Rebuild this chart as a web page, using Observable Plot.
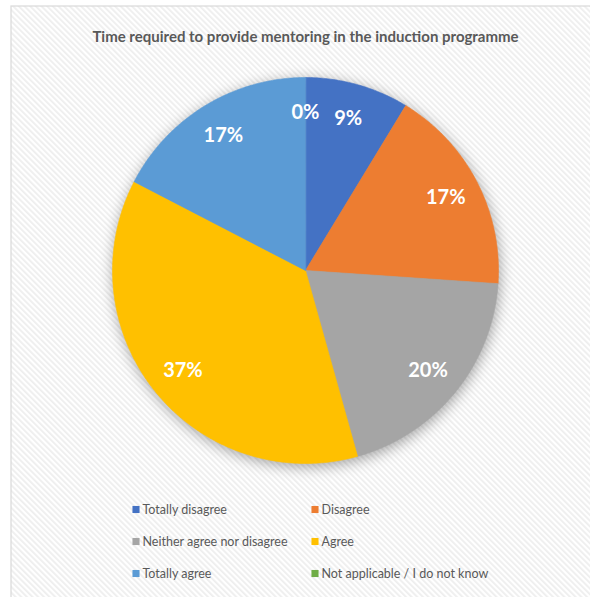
<!DOCTYPE html>
<html>
<head>
<meta charset="utf-8">
<script src="https://cdn.jsdelivr.net/npm/d3@7"></script>
<script src="https://cdn.jsdelivr.net/npm/@observablehq/plot@0.6"></script>
<style>
  html, body { margin: 0; padding: 0; background: #fff; }
</style>
</head>
<body>
<div id="chart"></div>
<script>
// ---- data ----
const title = "Time required to provide mentoring in the induction programme";
const categories = ["Totally disagree", "Disagree", "Neither agree nor disagree", "Agree", "Totally agree", "Not applicable / I do not know"];
const counts = [4, 8, 9, 17, 8, 0];
const colors = ["#4472C4", "#ED7D31", "#A5A5A5", "#FFC000", "#5B9BD5", "#70AD47"];

// ---- layout ----
const W = 590, H = 597;
const cx = 305, cy = 270, R = 193, labelR = 158;
const legendX = [132, 311], legendY0 = 509, legendDY = 32;

const total = d3.sum(counts);
const pct = d3.format(".0%");
const arcs = d3.pie().sort(null).value(d => d.value)(categories.map((c, i) => ({cat: c, value: counts[i]})));

// slice polygons derived from the data angles
const polys = [];
arcs.forEach(a => {
  if (a.endAngle - a.startAngle <= 0) return;
  polys.push({cat: a.data.cat, x: cx, y: cy});
  const n = Math.max(2, Math.ceil((a.endAngle - a.startAngle) / (Math.PI / 360)));
  for (let k = 0; k <= n; k++) {
    const t = a.startAngle + (a.endAngle - a.startAngle) * k / n;
    polys.push({cat: a.data.cat, x: cx + R * Math.sin(t), y: cy - R * Math.cos(t)});
  }
});

const labels = arcs.map(a => {
  const m = (a.startAngle + a.endAngle) / 2;
  return {text: pct(a.data.value / total), x: cx + labelR * Math.sin(m), y: cy - labelR * Math.cos(m)};
});

const legend = categories.map((c, i) => ({cat: c, x: legendX[i % 2], y: legendY0 + Math.floor(i / 2) * legendDY}));

const chart = Plot.plot({
  width: W, height: H,
  marginLeft: 10.5, marginTop: 5.5, marginRight: -3, marginBottom: -3,
  x: {type: "identity", axis: null},
  y: {type: "identity", axis: null},
  color: {domain: categories, range: colors},
  style: {fontFamily: "Lato, 'Open Sans', sans-serif", background: "#fff", overflow: "hidden"},
  marks: [
    Plot.frame({fill: "url(#hatch)", stroke: "#d9d9d9", strokeWidth: 1.2}),
    Plot.text([title], {x: cx, y: 37, text: d => d, fontSize: 15, fontWeight: "bold", fill: "#595959"}),
    Plot.line(polys, {x: "x", y: "y", z: "cat", fill: "cat", stroke: "cat", strokeWidth: 0.6, curve: "linear-closed"}),
    Plot.text(labels, {x: "x", y: "y", text: "text", fill: "white", fontSize: 20, fontWeight: "bold"}),
    Plot.dot(legend, {x: d => d.x + 3.5, y: "y", fill: "cat", symbol: "square", r: 4}),
    Plot.text(legend, {x: d => d.x + 10, y: "y", text: "cat", textAnchor: "start", fontSize: 12.5, fill: "#595959"})
  ]
});

const svg = d3.select(chart);
const defs = svg.insert("defs", ":first-child");
const pat = defs.append("pattern").attr("id", "hatch").attr("width", 4).attr("height", 4)
  .attr("patternUnits", "userSpaceOnUse").attr("patternTransform", "rotate(-45)");
pat.append("rect").attr("width", 4).attr("height", 4).attr("fill", "#ffffff");
pat.append("rect").attr("width", 1.8).attr("height", 4).attr("fill", "#eeeeee");
svg.selectAll("g[aria-label=line]").style("filter", "drop-shadow(1px 3px 7px rgba(0,0,0,0.35))");

document.getElementById("chart").appendChild(chart);
</script>
</body>
</html>
